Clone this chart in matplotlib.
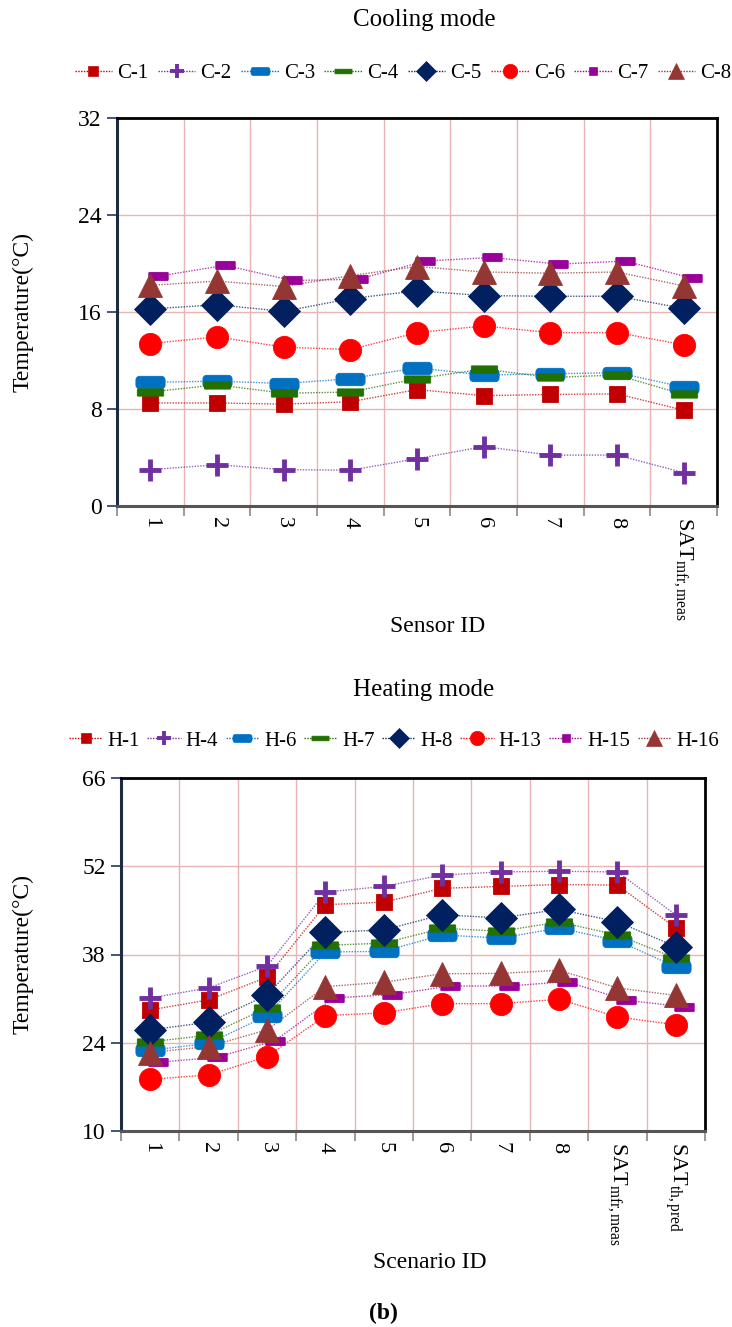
import numpy as np
import matplotlib
matplotlib.use("Agg")
import matplotlib.pyplot as plt
from matplotlib.path import Path
from matplotlib.lines import Line2D

plt.rcParams['font.family'] = ['Liberation Serif', 'DejaVu Serif']
plt.rcParams['mathtext.fontset'] = 'custom'
plt.rcParams['mathtext.rm'] = 'Liberation Serif'
plt.rcParams['mathtext.it'] = 'Liberation Serif:italic'

# ---------------- data ----------------
cool_labels = ["1", "2", "3", "4", "5", "6", "7", "8", r"SAT$_{\mathrm{mfr,meas}}$"]
cool_series = ["C-1", "C-2", "C-3", "C-4", "C-5", "C-6", "C-7", "C-8"]
c1 = [8.5, 8.5, 8.4, 8.6, 9.6, 9.1, 9.2, 9.25, 7.9]
c2 = [3.0, 3.4, 3.0, 2.95, 3.9, 4.9, 4.2, 4.2, 2.75]
c3 = [10.2, 10.3, 10.1, 10.5, 11.4, 10.8, 10.9, 11.0, 9.8]
c4 = [9.4, 10.0, 9.3, 9.4, 10.5, 11.3, 10.6, 10.8, 9.2]
c5 = [16.25, 16.6, 16.05, 17.1, 17.75, 17.35, 17.3, 17.3, 16.3]
c6 = [13.4, 13.95, 13.1, 12.9, 14.3, 14.85, 14.3, 14.3, 13.3]
c7 = [18.95, 19.85, 18.6, 18.7, 20.2, 20.5, 19.95, 20.2, 18.8]
c8 = [18.2, 18.55, 18.1, 19.0, 19.75, 19.3, 19.2, 19.3, 18.15]

heat_labels = ["1", "2", "3", "4", "5", "6", "7", "8",
               r"SAT$_{\mathrm{mfr,meas}}$", r"SAT$_{\mathrm{th,pred}}$"]
heat_series = ["H-1", "H-4", "H-6", "H-7", "H-8", "H-13", "H-15", "H-16"]
h1 = [29.2, 30.8, 34.4, 45.9, 46.3, 48.5, 48.8, 49.1, 49.0, 42.2]
h4 = [31.1, 32.7, 36.15, 47.9, 48.8, 50.6, 51.1, 51.2, 51.1, 44.3]
h6 = [22.8, 23.9, 28.3, 38.4, 38.5, 41.1, 40.6, 42.2, 40.2, 36.05]
h7 = [24.15, 25.2, 29.55, 39.45, 39.8, 42.15, 41.7, 43.15, 41.1, 37.4]
h8 = [26.05, 27.25, 31.55, 41.5, 41.9, 44.3, 43.8, 45.15, 43.2, 39.25]
h13 = [18.2, 18.9, 21.8, 28.3, 28.75, 30.2, 30.2, 30.9, 28.1, 26.85]
h15 = [20.9, 21.7, 24.35, 31.1, 31.65, 33.0, 33.0, 33.7, 30.75, 29.7]
h16 = [22.45, 23.4, 26.05, 32.9, 33.6, 34.95, 35.0, 35.5, 32.7, 31.5]

# ---------------- styles ----------------
def rrect(w, h, r, n=6):
    pts = []
    corners = [(w/2 - r, h/2 - r, 0), (-w/2 + r, h/2 - r, 90),
               (-w/2 + r, -h/2 + r, 180), (w/2 - r, -h/2 + r, 270)]
    for cx, cy, a0 in corners:
        for t in np.linspace(a0, a0 + 90, n):
            pts.append((cx + r*np.cos(np.radians(t)), cy + r*np.sin(np.radians(t))))
    pts.append(pts[0])
    codes = [Path.MOVETO] + [Path.LINETO]*(len(pts) - 2) + [Path.CLOSEPOLY]
    return Path(pts, codes)

blue_mk = rrect(2.0, 0.85, 0.25)
green_mk = rrect(2.0, 0.55, 0.05)
mag_mk = rrect(2.0, 0.85, 0.08)

colors = ['#C00000', '#7030A0', '#0070C0', '#217000', '#002060', '#FF0000', '#990099', '#943634']
markers = ['s', '+', blue_mk, green_mk, 'D', 'o', mag_mk, '^']
msizes = [12, 16, 21, 19, 16, 16, 14, 17]
mews = [0.6, 3.5, 0.6, 0.6, 0.6, 0.6, 0.6, 0.6]

grid_c = '#E8B4B4'

fig = plt.figure(figsize=(7.32, 13.27), dpi=100)

def draw(ax, labels, series, names, ylim, yticks, off7, ylab_x):
    n = len(labels)
    x = np.arange(1, n + 1)
    for i, (vals, name) in enumerate(zip(series, names)):
        xo = x + (off7 if i == 6 else 0)
        ax.plot(xo, vals, linestyle=(0, (1, 1)), lw=1.0, color=colors[i], alpha=0.75, zorder=2)
        ax.plot(xo, vals, linestyle='none', marker=markers[i], ms=msizes[i], mew=mews[i],
                color=colors[i], mec=colors[i], zorder=3 + i)
    ax.set_xlim(0.5, n + 0.5)
    ax.set_ylim(*ylim)
    ax.set_yticks(yticks)
    ax.set_xticks(np.arange(0.5, n + 1, 1.0))
    ax.set_xticklabels([])
    ax.set_xticks(x, minor=True)
    ax.set_xticklabels(labels, minor=True, rotation=-90, va='top', ha='center', fontsize=16)
    ax.tick_params(axis='x', which='minor', length=0, pad=8)
    ax.tick_params(axis='x', which='major', length=7, color='#888888', width=1.2, direction='out')
    ax.tick_params(axis='y', length=7, color='#1F3864', width=1.2, direction='out', labelsize=17, pad=4)
    ax.grid(True, which='major', color=grid_c, lw=1.0, zorder=0)
    ax.set_axisbelow(True)
    for side, c, w in [('top', 'black', 2.0), ('right', 'black', 2.0),
                       ('left', '#1F2A44', 2.2), ('bottom', '#555555', 2.2)]:
        ax.spines[side].set_color(c)
        ax.spines[side].set_linewidth(w)
    ax.set_ylabel('Temperature(°C)', fontsize=17)
    ax.yaxis.set_label_coords(ylab_x, 0.5)

# top chart
ax1 = fig.add_axes([117/732, 1 - 506/1327, 600/732, 388/1327])
draw(ax1, cool_labels, [c1, c2, c3, c4, c5, c6, c7, c8], cool_series,
     (0, 32), [0, 8, 16, 24, 32], 0.12, (34 - 117) / 600)
fig.text(438/732, 1 - 627/1327, 'Sensor ID', ha='center', va='center', fontsize=17)
fig.text(424/732, 1 - 20/1327, 'Cooling mode', ha='center', va='center', fontsize=18)

# bottom chart
ax2 = fig.add_axes([121/732, 1 - 1131/1327, 584/732, 353/1327])
draw(ax2, heat_labels, [h1, h4, h6, h7, h8, h13, h15, h16], heat_series,
     (10, 66), [10, 24, 38, 52, 66], 0.14, (34 - 121) / 584)
fig.text(430/732, 1 - 1262/1327, 'Scenario ID', ha='center', va='center', fontsize=17)
fig.text(424/732, 1 - 690/1327, 'Heating mode', ha='center', va='center', fontsize=18)
fig.text(383/732, 1 - 1313/1327, '(b)', ha='center', va='center', fontsize=17, fontweight='bold')

# legends
def legend_handles(names):
    hs = []
    for i, name in enumerate(names):
        mk = markers[i]
        ms = msizes[i] * 0.65
        if i == 6:
            mk, ms = 's', 5.5
        hs.append(Line2D([0], [0], linestyle=(0, (1, 1)), lw=1.0, color=colors[i],
                         marker=mk, ms=ms, mew=mews[i] * 0.8, mfc=colors[i], mec=colors[i],
                         label=name))
    return hs

fig.legend(handles=legend_handles(cool_series), loc='center', ncol=8,
           bbox_to_anchor=(403/732, 1 - 73/1327), frameon=False, fontsize=15,
           handlelength=1.8, handletextpad=0.25, columnspacing=0.45, borderpad=0.1)
fig.legend(handles=legend_handles(heat_series), loc='center', ncol=8,
           bbox_to_anchor=(394/732, 1 - 741/1327), frameon=False, fontsize=15,
           handlelength=1.6, handletextpad=0.25, columnspacing=0.35, borderpad=0.1)

fig.savefig('out.png', dpi=100)
